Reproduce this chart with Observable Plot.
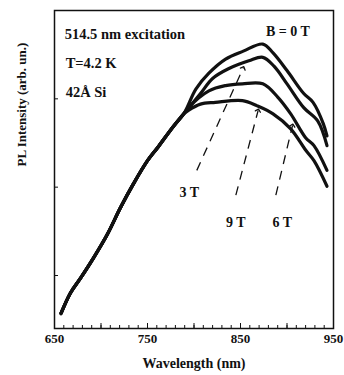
<!DOCTYPE html>
<html><head><meta charset="utf-8">
<script src="https://cdn.jsdelivr.net/npm/d3@7"></script>
<script src="https://cdn.jsdelivr.net/npm/@observablehq/plot@0.6"></script>
<style>
html,body{margin:0;padding:0;background:#fff;}
#chart svg{display:block;}
</style>
</head><body><div id="chart"></div>
<script>
// Common part of all four spectra (they coincide below ~790 nm)
const sharedWavelength = [657, 667, 678, 692, 707, 721, 735, 750, 761, 778, 789];
const sharedIntensity  = [-0.43, -0.20, -0.03, 0.20, 0.47, 0.77, 1.04, 1.30, 1.45, 1.69, 1.83];

// Individual branches after the split
const wavelength0T = [802, 816, 834, 853, 874, 885, 900, 918, 928, 939, 943];
const intensity0T  = [2.11, 2.29, 2.45, 2.54, 2.62, 2.52, 2.32, 2.06, 1.96, 1.72, 1.58];

const wavelength3T = [807, 820, 837, 859, 874, 886, 900, 918, 933, 943];
const intensity3T  = [2.06, 2.23, 2.34, 2.43, 2.47, 2.37, 2.17, 1.90, 1.75, 1.47];

const wavelength6T = [794, 816, 834, 852, 874, 890, 904, 920, 929, 943];
const intensity6T  = [1.90, 2.09, 2.15, 2.17, 2.17, 2.02, 1.83, 1.56, 1.47, 1.19];

const wavelength9T = [794, 807, 823, 852, 868, 885, 904, 920, 929, 943];
const intensity9T  = [1.87, 1.94, 1.96, 1.98, 1.92, 1.83, 1.66, 1.42, 1.30, 1.01];

const fields = ["0 T", "3 T", "6 T", "9 T"];

// Axis ticks
const xTickLabels = [650, 750, 850, 950];
const xMinorTicks = d3.range(660, 950, 10);
const xMajorTicks = [700, 750, 800, 850, 900];
const yTicks = [0, 1, 2];

// Annotations
const noteText = ["514.5 nm excitation", "T=4.2 K", "42Å Si"];
const noteX = [661, 662, 662];
const noteY = [2.73, 2.40, 2.07];

const fieldLabelText = ["B = 0 T", "3 T", "9 T", "6 T"];
const fieldLabelX = [901, 795, 845, 895];
const fieldLabelY = [2.76, 0.94, 0.60, 0.60];

const pointerX1 = [803, 845, 888];
const pointerY1 = [1.19, 0.91, 0.91];
const pointerX2 = [853, 869, 906];
const pointerY2 = [2.35, 1.87, 1.70];

// Build tables
const branches = [
  [wavelength0T, intensity0T],
  [wavelength3T, intensity3T],
  [wavelength6T, intensity6T],
  [wavelength9T, intensity9T]
];
const rows = [];
fields.forEach((f, k) => {
  sharedWavelength.forEach((w, i) => rows.push({field: f, wavelength: w, intensity: sharedIntensity[i]}));
  branches[k][0].forEach((w, i) => rows.push({field: f, wavelength: w, intensity: branches[k][1][i]}));
});
const notes = noteText.map((t, i) => ({text: t, x: noteX[i], y: noteY[i]}));
const fieldLabels = fieldLabelText.map((t, i) => ({text: t, x: fieldLabelX[i], y: fieldLabelY[i]}));
const pointers = pointerX1.map((x, i) => ({x1: x, y1: pointerY1[i], x2: pointerX2[i], y2: pointerY2[i]}));

const ink = "#111";
const chart = Plot.plot({
  width: 344,
  height: 375,
  marginLeft: 54,
  marginRight: 11,
  marginTop: 10,
  marginBottom: 47,
  x: {domain: [650, 950], axis: null},
  y: {domain: [-0.6, 3.0], axis: null},
  style: {fontFamily: "'Liberation Serif', 'Times New Roman', serif", background: "#fff", color: ink},
  marks: [
    Plot.frame({stroke: ink, strokeWidth: 1.5}),
    Plot.tickX(xMinorTicks, {x: d => d, insetTop: 315, stroke: ink, strokeWidth: 1}),
    Plot.tickX(xMajorTicks, {x: d => d, insetTop: 313, stroke: ink, strokeWidth: 1}),
    Plot.tickY(yTicks, {y: d => d, insetRight: 275, stroke: ink, strokeWidth: 1}),
    Plot.text(xTickLabels, {x: d => d, frameAnchor: "bottom", dy: 14, fontSize: 13, fontWeight: "bold", fill: ink}),
    Plot.text(["Wavelength (nm)"], {frameAnchor: "bottom", dy: 39, fontSize: 14, fontWeight: "bold", fill: ink}),
    Plot.text(["PL Intensity (arb. un.)"], {frameAnchor: "left", dx: -33, dy: -3, rotate: -90, fontSize: 13, fontWeight: "bold", fill: ink}),
    Plot.link(pointers, {x1: "x1", y1: "y1", x2: "x2", y2: "y2", stroke: ink, strokeWidth: 1.3, strokeDasharray: "9,7", markerEnd: "arrow"}),
    Plot.line(rows, {x: "wavelength", y: "intensity", z: "field", stroke: ink, strokeWidth: 3.2, curve: "catmull-rom"}),
    Plot.text(notes, {x: "x", y: "y", text: "text", textAnchor: "start", fontSize: 14.5, fontWeight: "bold", fill: ink}),
    Plot.text(fieldLabels, {x: "x", y: "y", text: "text", fontSize: 14, fontWeight: "bold", fill: ink})
  ]
});
document.getElementById("chart").appendChild(chart);
</script>
</body></html>
